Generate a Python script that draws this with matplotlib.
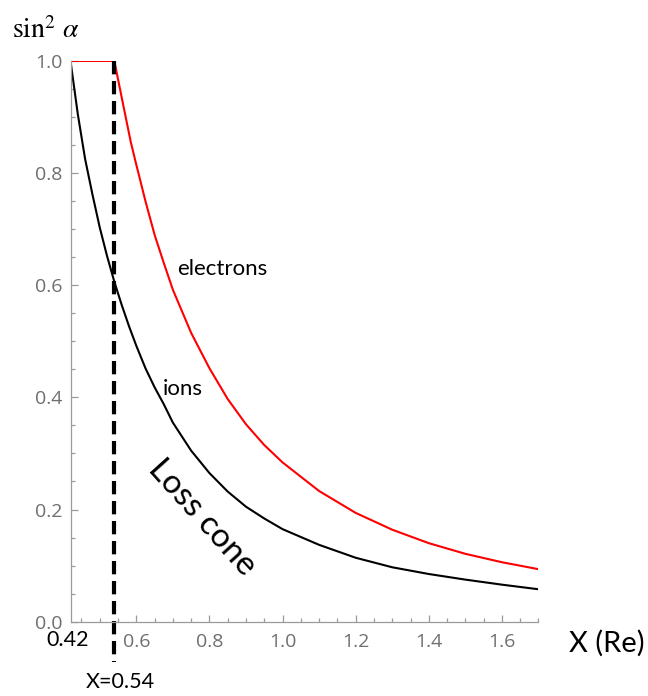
import matplotlib
matplotlib.use("Agg")
import matplotlib.pyplot as plt
from matplotlib.ticker import MultipleLocator, FixedLocator

plt.rcParams['mathtext.fontset'] = 'stix'

# values
ions_x = [0.42, 0.44, 0.46, 0.48, 0.50, 0.52, 0.54, 0.56, 0.58, 0.60, 0.625, 0.65,
          0.675, 0.70, 0.75, 0.80, 0.85, 0.90, 0.95, 1.0, 1.1, 1.2, 1.3, 1.4,
          1.5, 1.6, 1.7]
ions_y = [1.0, 0.905, 0.825, 0.762, 0.703, 0.652, 0.606, 0.565, 0.527, 0.492, 0.452, 0.418,
          0.388, 0.355, 0.305, 0.265, 0.232, 0.205, 0.184, 0.165, 0.137, 0.114, 0.097, 0.085,
          0.075, 0.066, 0.0578]

electrons_x = [0.42, 0.54, 0.543, 0.56, 0.585, 0.60, 0.625, 0.65, 0.675, 0.70, 0.75,
               0.80, 0.85, 0.90, 0.95, 1.0, 1.1, 1.2, 1.3, 1.4, 1.5, 1.6, 1.7]
electrons_y = [1.0, 1.0, 0.99, 0.935, 0.855, 0.815, 0.75, 0.69, 0.64, 0.592, 0.515,
               0.452, 0.397, 0.352, 0.315, 0.284, 0.233, 0.194, 0.164, 0.140, 0.121, 0.106, 0.0936]

x_cut = 0.54
x_ticks = [0.6, 0.8, 1.0, 1.2, 1.4, 1.6]
y_ticks = [0.0, 0.2, 0.4, 0.6, 0.8, 1.0]

label_font = 'Lato'
tick_grey = '#6f6f6f'
axis_grey = '#9a9a9a'

fig = plt.figure(figsize=(6.48, 6.96), dpi=100)
ax = fig.add_axes([0.1088, 0.1068, 0.7222, 0.8056])

ax.plot(electrons_x, electrons_y, color='red', lw=1.5, solid_joinstyle='round')
ax.plot(ions_x, ions_y, color='black', lw=1.5, solid_joinstyle='round')
ax.plot([x_cut, x_cut], [1.0, -0.072], color='black', lw=3,
        dashes=(3.2, 1.6), clip_on=False)

ax.set_xlim(0.42, 1.7)
ax.set_ylim(0.0, 1.0)

for side in ['top', 'right']:
    ax.spines[side].set_visible(False)
for side in ['left', 'bottom']:
    ax.spines[side].set_color(axis_grey)
    ax.spines[side].set_linewidth(0.9)

ax.xaxis.set_major_locator(FixedLocator(x_ticks))
ax.yaxis.set_major_locator(FixedLocator(y_ticks))
ax.xaxis.set_minor_locator(MultipleLocator(0.05))
ax.yaxis.set_minor_locator(MultipleLocator(0.05))
ax.set_xticklabels([f"{v:.1f}" for v in x_ticks])
ax.set_yticklabels([f"{v:.1f}" for v in y_ticks])
ax.tick_params(which='both', direction='in', color=axis_grey, width=0.9)
ax.tick_params(which='major', length=5)
ax.tick_params(which='minor', length=3)
ax.tick_params(axis='x', pad=8)
ax.tick_params(axis='y', pad=6)
for lab in ax.get_xticklabels() + ax.get_yticklabels():
    lab.set_fontfamily('Open Sans')
    lab.set_fontsize(14)
    lab.set_color(tick_grey)

# annotations
ax.text(0.411, -0.043, '0.42', ha='center', va='baseline', fontsize=15.5,
        family=label_font, color='black', clip_on=False)
ax.text(0.555, -0.108, 'X=0.54', ha='center', va='center', fontsize=15.5,
        family=label_font, color='black', clip_on=False)
ax.text(0.836, 0.629, 'electrons', ha='center', va='center', fontsize=16, family=label_font)
ax.text(0.727, 0.415, 'ions', ha='center', va='center', fontsize=16, family=label_font)
ax.text(0.781, 0.186, 'Loss cone', ha='center', va='center', fontsize=24,
        family=label_font, rotation=-48, rotation_mode='anchor')
fig.text(0.937, 0.076, 'X (Re)', ha='center', va='center', fontsize=21, family=label_font)
fig.text(0.018, 0.957, r'$\sin^2\,\alpha$', ha='left', va='center', fontsize=20)

fig.savefig('out.png', dpi=100)
